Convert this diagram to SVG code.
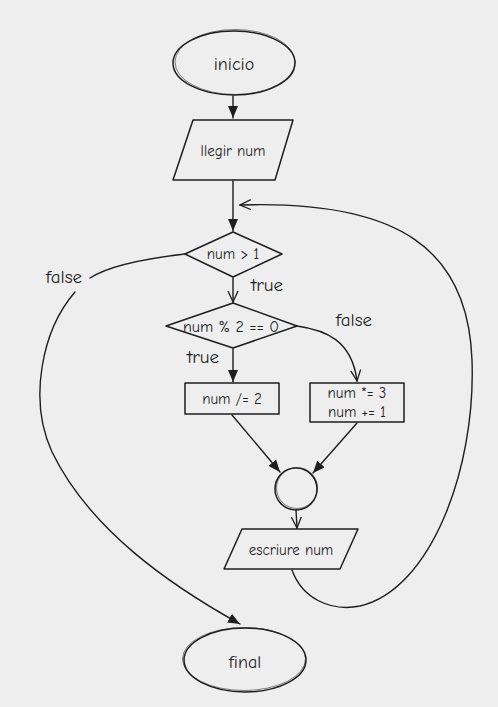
<svg xmlns="http://www.w3.org/2000/svg" width="498" height="707" viewBox="0 0 498 707">
<style>
.s{fill:none;stroke:#1e1e1e;stroke-width:1.5;stroke-linejoin:round;stroke-linecap:round}
.s2{fill:none;stroke:#1e1e1e;stroke-width:0.8;opacity:0.7}
.c{fill:none;stroke:#1e1e1e;stroke-width:1.4;stroke-linecap:round}
.t{font-family:"Comic Neue","Liberation Sans",sans-serif;fill:#1e1e1e;text-anchor:middle;dominant-baseline:central}
.n{font-size:15px}
.l{font-size:19px}
</style>
<defs>
<marker id="af" viewBox="0 0 12 10" refX="12" refY="5" markerWidth="12" markerHeight="10" markerUnits="userSpaceOnUse" orient="auto">
<path d="M0,0 L12,5 L0,10 z" fill="#1e1e1e"/>
</marker>
<marker id="ao" viewBox="0 0 12 12" refX="11" refY="6" markerWidth="12" markerHeight="12" markerUnits="userSpaceOnUse" orient="auto">
<path d="M0,1 L11,6 L0,11" fill="none" stroke="#1e1e1e" stroke-width="1.3"/>
</marker>
</defs>
<rect width="498" height="707" fill="#eeeeee"/>
<g id="connectors">
<path class="c" d="M233,96 L233,118" marker-end="url(#af)"/>
<path class="c" d="M233,181 L233,231" marker-end="url(#af)"/>
<path class="c" d="M233,278 L233,302" marker-end="url(#ao)"/>
<path class="c" d="M233,349 L233,382" marker-end="url(#af)"/>
<path class="c" d="M297,326 C325,330 352,340 357,381" marker-end="url(#ao)"/>
<path class="c" d="M232,415 L280,472" marker-end="url(#af)"/>
<path class="c" d="M357,423 L313,473" marker-end="url(#af)"/>
<path class="c" d="M296,510 L297,528" marker-end="url(#ao)"/>
<path class="c" d="M292,570 C302,598 330,612 360,606 C430,590 476,470 472,360 C468,250 400,200 240,205" marker-end="url(#ao)"/>
<path class="c" d="M185,254 C150,258 110,265 90,278"/>
<path class="c" d="M75,292 C42,330 28,400 52,452 C90,530 170,585 240,624" marker-end="url(#af)"/>
<text class="t l" x="267" y="285">true</text>
<text class="t l" x="203" y="357">true</text>
<text class="t l" x="354" y="320">false</text>
<text class="t l" x="64" y="277">false</text>
</g>
<g id="inicio">
<ellipse class="s" cx="234" cy="63" rx="61" ry="32"/>
<ellipse class="s2" cx="235" cy="62" rx="60" ry="32.5"/>
<text class="t" x="234" y="64" font-size="18">inicio</text>
</g>
<g id="llegir">
<path class="s" d="M193,120 L293,120 L275,180 L173,180 Z"/>
<text class="t n" x="233" y="151">llegir num</text>
</g>
<g id="cond1">
<path class="s" d="M233,232 L282,254 L233,277 L185,254 Z"/>
<text class="t n" x="233" y="254">num &gt; 1</text>
</g>
<g id="cond2">
<path class="s" d="M233,303 L297,326 L233,348 L166,326 Z"/>
<text class="t" x="231" y="327" font-size="16">num % 2 == 0</text>
</g>
<g id="div">
<rect class="s" x="185" y="383" width="94" height="31"/>
<text class="t n" x="232" y="399">num /= 2</text>
</g>
<g id="mul">
<rect class="s" x="310" y="383" width="94" height="39"/>
<text class="t n" x="357" y="393">num *= 3</text>
<text class="t n" x="357" y="412">num += 1</text>
</g>
<g id="join">
<circle class="s" cx="296" cy="489" r="21"/>
<circle class="s2" cx="297" cy="488" r="20.5"/>
</g>
<g id="escriure">
<path class="s" d="M242,529 L358,529 L340,569 L224,569 Z"/>
<text class="t n" x="291" y="550">escriure num</text>
</g>
<g id="final">
<ellipse class="s" cx="245" cy="660" rx="61" ry="32"/>
<ellipse class="s2" cx="244" cy="659" rx="61.5" ry="31.5"/>
<text class="t" x="245" y="662" font-size="18">final</text>
</g>
</svg>
